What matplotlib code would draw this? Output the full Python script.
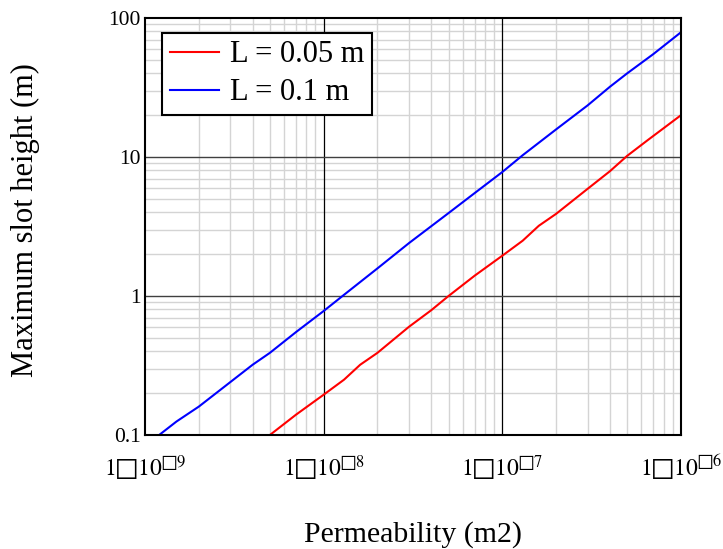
import matplotlib
matplotlib.use("Agg")
import matplotlib.pyplot as plt
from matplotlib.ticker import FixedLocator, FixedFormatter, LogLocator, NullFormatter

plt.rcParams['font.family'] = ['Liberation Serif', 'DejaVu Serif']
plt.rcParams['mathtext.fontset'] = 'stix'

# Slot height vs permeability, two slot lengths
perm_01 = [1.2e-9, 1.5e-9, 2.0e-9, 3.0e-9, 4.0e-9, 5.0e-9, 7.0e-9, 1.0e-8, 1.3e-8,
           2.0e-8, 3.0e-8, 5.0e-8, 7.0e-8, 1.0e-7, 1.3e-7, 2.0e-7, 3.0e-7, 4.0e-7,
           5.0e-7, 7.0e-7, 1.0e-6]
height_01 = [0.1, 0.125, 0.16, 0.24, 0.32, 0.39, 0.55, 0.78, 1.02,
             1.58, 2.4, 3.95, 5.5, 7.8, 10.3, 15.8, 23.5, 32,
             40, 55, 79]

perm_005 = [5.0e-9, 7.0e-9, 1.0e-8, 1.3e-8, 1.6e-8, 2.0e-8, 3.0e-8, 4.0e-8, 5.0e-8,
            7.0e-8, 1.0e-7, 1.3e-7, 1.6e-7, 2.0e-7, 3.0e-7, 4.0e-7, 5.0e-7, 6.5e-7,
            1.0e-6]
height_005 = [0.1, 0.14, 0.195, 0.25, 0.32, 0.39, 0.6, 0.79, 1.0,
              1.4, 1.95, 2.5, 3.2, 3.9, 5.9, 7.9, 10.2, 13.2,
              20]

x_ticks = [1e-9, 1e-8, 1e-7, 1e-6]
x_ticklabels = ["$\\mathrm{1\u25a110}^{\u25a19}$", "$\\mathrm{1\u25a110}^{\u25a18}$",
                "$\\mathrm{1\u25a110}^{\u25a17}$", "$\\mathrm{1\u25a110}^{\u25a16}$"]
y_ticks = [0.1, 1, 10, 100]
y_ticklabels = ["0.1", "1", "10", "100"]

fig = plt.figure(figsize=(7.23, 5.49), dpi=100)
ax = fig.add_axes([145 / 723, 1 - 435 / 549, 536 / 723, 417 / 549])

ax.plot(perm_005, height_005, color='#ff0000', lw=1.5, label='L = 0.05 m', zorder=3)
ax.plot(perm_01, height_01, color='#0000ff', lw=1.5, label='L = 0.1 m', zorder=3)

ax.set_xscale('log')
ax.set_yscale('log')
ax.set_xlim(1e-9, 1e-6)
ax.set_ylim(0.1, 100)

ax.xaxis.set_major_locator(FixedLocator(x_ticks))
ax.xaxis.set_major_formatter(FixedFormatter(x_ticklabels))
ax.yaxis.set_major_locator(FixedLocator(y_ticks))
ax.yaxis.set_major_formatter(FixedFormatter(y_ticklabels))
for axis in (ax.xaxis, ax.yaxis):
    axis.set_minor_locator(LogLocator(base=10, subs=range(2, 10), numticks=20))
    axis.set_minor_formatter(NullFormatter())

ax.tick_params(which='both', length=0)
ax.tick_params(axis='x', labelsize=17, pad=13)
ax.tick_params(axis='y', labelsize=15.5, pad=3)

# light minor grid, darker decade lines drawn on top of it
ax.grid(True, which='minor', color='#d4d4d4', lw=1.0)
ax.set_axisbelow(True)
for xv in x_ticks[1:-1]:
    ax.axvline(xv, color='#000000', lw=0.9, zorder=1)
for yv in y_ticks[1:-1]:
    ax.axhline(yv, color='#404040', lw=1.0, zorder=1)

for s in ax.spines.values():
    s.set_linewidth(1.5)
    s.set_zorder(4)

ax.set_xlabel('Permeability (m2)', fontsize=21.5, labelpad=28)
ax.set_ylabel('Maximum slot height (m)', fontsize=22, labelpad=44)
ax.yaxis.set_label_coords(-0.195, 0.515)

leg = ax.legend(loc='upper left', bbox_to_anchor=(0.032, 0.965), fontsize=22,
                frameon=True, fancybox=False, framealpha=1, edgecolor='black',
                borderpad=0.25, handlelength=1.6, handletextpad=0.36, labelspacing=0.3,
                borderaxespad=0)
leg.get_frame().set_linewidth(1.5)
leg.set_zorder(5)

fig.savefig('out.png', dpi=100)
